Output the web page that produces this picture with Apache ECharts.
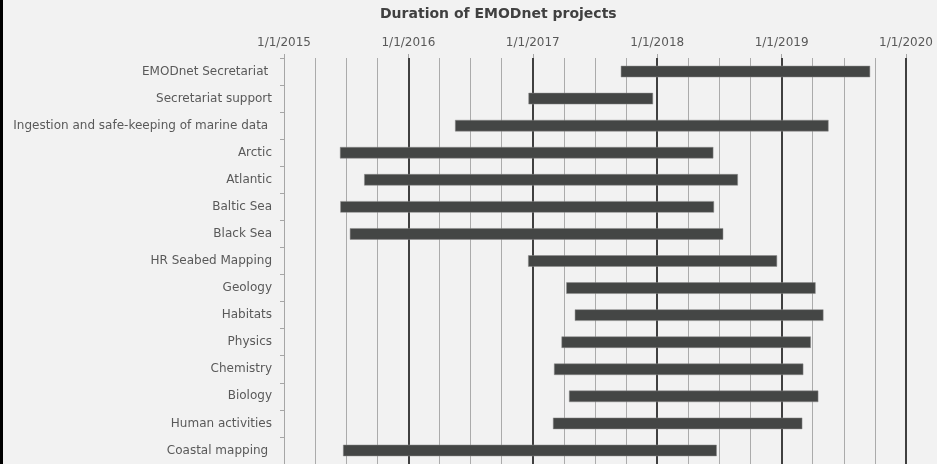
<!DOCTYPE html>
<html>
<head>
<meta charset="utf-8">
<script src="https://cdn.jsdelivr.net/npm/echarts@6/dist/echarts.min.js"></script>
<style>
  html, body { margin: 0; padding: 0; background: #f2f2f2; }
  #chartBox { width: 937px; height: 464px; }
  #edge { position: absolute; left: 0; top: 0; width: 3px; height: 464px; background: #000; }
</style>
</head>
<body>
<div id="chartBox"></div>
<div id="edge"></div>
<script>
// project names (trailing spaces as in the original labels)
const projects = [
  'EMODnet Secretariat ',
  'Secretariat support',
  'Ingestion and safe-keeping of marine data ',
  'Arctic',
  'Atlantic',
  'Baltic Sea',
  'Black Sea',
  'HR Seabed Mapping',
  'Geology',
  'Habitats',
  'Physics',
  'Chemistry',
  'Biology',
  'Human activities',
  'Coastal mapping '
];
const startDates = [
  '2017-09-17', '2016-12-20', '2016-05-18', '2015-06-15', '2015-08-25',
  '2015-06-16', '2015-07-14', '2016-12-19', '2017-04-10', '2017-05-05',
  '2017-03-27', '2017-03-05', '2017-04-18', '2017-03-02', '2015-06-24'
];
const endDates = [
  '2019-09-17', '2017-12-19', '2019-05-18', '2018-06-14', '2018-08-25',
  '2018-06-16', '2018-07-13', '2018-12-18', '2019-04-10', '2019-05-03',
  '2019-03-27', '2019-03-05', '2019-04-18', '2019-03-02', '2018-06-24'
];
const yearLabels = ['1/1/2015', '1/1/2016', '1/1/2017', '1/1/2018', '1/1/2019', '1/1/2020'];
const firstYear = 2015;

// date string -> decimal year
function toYear(s) {
  const d = Date.parse(s + 'T00:00:00Z');
  const y = new Date(d).getUTCFullYear();
  const a = Date.UTC(y, 0, 1), b = Date.UTC(y + 1, 0, 1);
  return y + (d - a) / (b - a);
}

const chart = echarts.init(document.getElementById('chartBox'));
const labelFont = 'DejaVu Sans, Verdana, sans-serif';

const option = {
  backgroundColor: '#f2f2f2',
  animation: false,
  title: {
    text: 'Duration of EMODnet projects',
    left: 380,
    top: 7,
    padding: 0,
    textStyle: { fontFamily: labelFont, fontSize: 14, fontWeight: 'bold', color: '#404040' }
  },
  grid: [
    { left: 284, right: 31, top: 58, height: 407 },
    { left: 284, right: 14, top: 58, height: 407 }
  ],
  xAxis: [
    {
      gridIndex: 0,
      type: 'value',
      position: 'top',
      min: firstYear,
      max: firstYear + yearLabels.length - 1,
      interval: 1,
      axisLine: { show: false },
      axisTick: { show: true, length: 4, lineStyle: { color: '#a6a6a6' } },
      axisLabel: {
        margin: 9,
        color: '#595959',
        fontFamily: labelFont,
        fontSize: 12,
        formatter: v => yearLabels[Math.round(v - firstYear)] || ''
      },
      splitLine: { show: true, showMinLine: false, lineStyle: { color: '#404040', width: 2 } },
      minorTick: { show: false, splitNumber: 4 },
      minorSplitLine: { show: true, lineStyle: { color: '#ababab', width: 1 } }
    },
    {
      gridIndex: 1,
      type: 'value',
      position: 'top',
      min: 0,
      max: 1,
      axisLine: { show: true, lineStyle: { color: '#a6a6a6' } },
      axisTick: { show: false },
      axisLabel: { show: false },
      splitLine: { show: false }
    }
  ],
  yAxis: [
    {
      gridIndex: 0,
      type: 'category',
      data: projects,
      inverse: true,
      axisLine: { show: true, lineStyle: { color: '#a6a6a6' } },
      axisTick: { show: true, length: 4, lineStyle: { color: '#a6a6a6' } },
      axisLabel: { margin: 12, color: '#595959', fontFamily: labelFont, fontSize: 12 },
      splitLine: { show: false }
    },
    { gridIndex: 1, type: 'value', show: false }
  ],
  series: [
    {
      type: 'custom',
      xAxisIndex: 0,
      yAxisIndex: 0,
      encode: { x: [1, 2], y: 0 },
      data: projects.map((p, i) => [i, toYear(startDates[i]), toYear(endDates[i])]),
      renderItem: function (params, api) {
        const cat = api.value(0);
        const s = api.coord([api.value(1), cat]);
        const e = api.coord([api.value(2), cat]);
        const h = api.size([0, 1])[1] * 0.405;
        return {
          type: 'rect',
          shape: { x: s[0], y: s[1] - h / 2, width: e[0] - s[0], height: h },
          style: { fill: '#444645', stroke: '#8a8a8a', lineWidth: 0.5 }
        };
      }
    }
  ]
};

chart.setOption(option);
</script>
</body>
</html>
